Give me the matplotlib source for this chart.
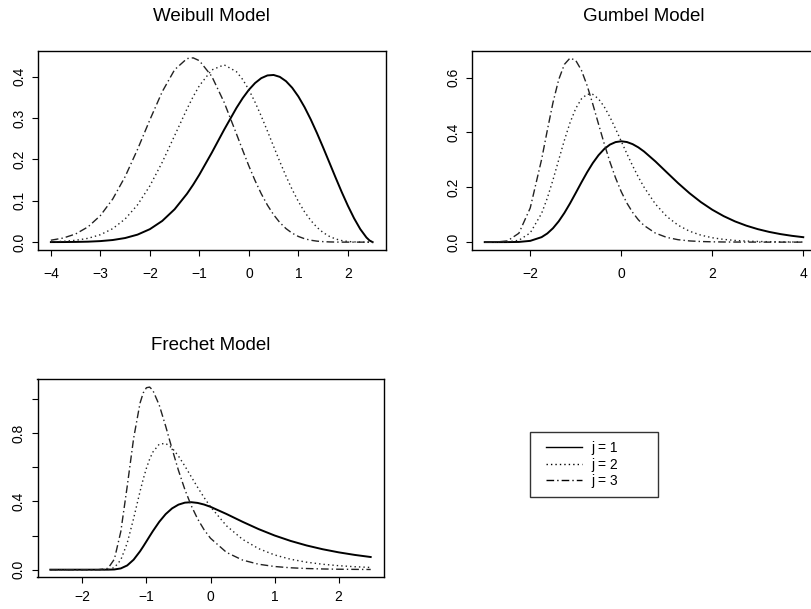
import matplotlib
matplotlib.use("Agg")
import matplotlib.pyplot as plt
from matplotlib.ticker import FixedLocator
from matplotlib.lines import Line2D
from matplotlib.legend_handler import HandlerLine2D

plt.rcParams['font.family'] = ['Liberation Sans', 'DejaVu Sans']
plt.rcParams['lines.scale_dashes'] = False

# ---------------- data ----------------
weibull_x = [-4, -3.75, -3.5, -3.25, -3, -2.75, -2.5, -2.25, -2, -1.75,
             -1.5, -1.25, -1.125, -1, -0.75, -0.5, -0.25, -0.125, 0, 0.125,
             0.25, 0.375, 0.5, 0.625, 0.75, 0.875, 1, 1.125, 1.25, 1.375,
             1.5, 1.625, 1.75, 1.875, 2, 2.125, 2.25, 2.375, 2.4375, 2.5]
weibull_j1 = [0.0001, 0.0002, 0.0005, 0.0011, 0.0025, 0.0051, 0.0099, 0.0181, 0.0313, 0.0512,
              0.0794, 0.1168, 0.1388, 0.1630, 0.2158, 0.2715, 0.3243, 0.3477, 0.3679, 0.3842,
              0.3960, 0.4026, 0.4037, 0.3991, 0.3887, 0.3728, 0.3517, 0.3259, 0.2963, 0.2635,
              0.2286, 0.1926, 0.1564, 0.1211, 0.0879, 0.0576, 0.0315, 0.0112, 0.0040, 0.0]
weibull_j2 = [0.0008, 0.0020, 0.0044, 0.0092, 0.0179, 0.0326, 0.0559, 0.0899, 0.1359, 0.1929,
              0.2572, 0.3217, 0.3515, 0.3779, 0.4158, 0.4282, 0.4115, 0.3928, 0.3679, 0.3379,
              0.3043, 0.2682, 0.2311, 0.1944, 0.1593, 0.1270, 0.0981, 0.0731, 0.0524, 0.0358,
              0.0231, 0.0140, 0.0077, 0.0038, 0.0016, 0.0005, 0.0001, 0.0, 0.0, 0.0]
weibull_j3 = [0.0046, 0.0099, 0.0197, 0.0368, 0.0641, 0.1042, 0.1581, 0.2238, 0.2954, 0.3634,
              0.4164, 0.4433, 0.4450, 0.4382, 0.4006, 0.3377, 0.2611, 0.2219, 0.1839, 0.1486,
              0.1169, 0.0893, 0.0661, 0.0473, 0.0327, 0.0216, 0.0137, 0.0082, 0.0046, 0.0024,
              0.0012, 0.0005, 0.0002, 0.0, 0.0, 0.0, 0.0, 0.0, 0.0, 0.0]

gumbel_x = [-3, -2.75, -2.5, -2.25, -2, -1.75, -1.625, -1.5, -1.375, -1.25,
            -1.125, -1, -0.875, -0.75, -0.625, -0.5, -0.375, -0.25, -0.125, 0,
            0.125, 0.25, 0.375, 0.5, 0.75, 1, 1.25, 1.5, 1.75, 2,
            2.25, 2.5, 2.75, 3, 3.25, 3.5, 3.75, 4]
gumbel_j1 = [0.0, 0.0, 0.0001, 0.0007, 0.0046, 0.0182, 0.0316, 0.0507, 0.0758, 0.1064,
             0.1415, 0.1794, 0.2179, 0.2549, 0.2885, 0.3170, 0.3396, 0.3556, 0.3649, 0.3679,
             0.3651, 0.3574, 0.3457, 0.3307, 0.2945, 0.2546, 0.2151, 0.1785, 0.1460, 0.1182,
             0.0949, 0.0756, 0.0600, 0.0474, 0.0373, 0.0293, 0.0230, 0.0180]
gumbel_j2 = [0.0, 0.0, 0.0008, 0.0068, 0.0337, 0.1049, 0.1607, 0.2272, 0.2997, 0.3715,
             0.4360, 0.4876, 0.5226, 0.5396, 0.5389, 0.5227, 0.4941, 0.4566, 0.4135, 0.3679,
             0.3222, 0.2784, 0.2376, 0.2006, 0.1391, 0.0937, 0.0616, 0.0398, 0.0254, 0.0160,
             0.0100, 0.0062, 0.0038, 0.0024, 0.0015, 0.0009, 0.0005, 0.0003]
gumbel_j3 = [0.0, 0.0003, 0.0046, 0.0324, 0.1247, 0.3018, 0.4080, 0.5092, 0.5926, 0.6483,
             0.6714, 0.6627, 0.6269, 0.5711, 0.5034, 0.4309, 0.3595, 0.2931, 0.2343, 0.1839,
             0.1422, 0.1084, 0.0816, 0.0608, 0.0329, 0.0172, 0.0088, 0.0044, 0.0022, 0.0011,
             0.0005, 0.0003, 0.0001, 0.0001, 0.0, 0.0, 0.0, 0.0]

frechet_x = [-2.5, -2, -1.75, -1.6, -1.5, -1.4, -1.3, -1.2, -1.1, -1.05, -1.0, -0.95, -0.9, -0.8,
             -0.7, -0.6, -0.5, -0.4, -0.3, -0.2, -0.1, 0, 0.25, 0.5, 0.75, 1, 1.25, 1.5, 1.75,
             2, 2.25, 2.5]
frechet_j1 = [0.0, 0.0, 0.0, 0.0001, 0.0013, 0.0074, 0.0248, 0.0584, 0.1074, 0.1358, 0.1656,
              0.1958, 0.2254, 0.2800, 0.3251, 0.3586, 0.3806, 0.3922, 0.3949, 0.3906, 0.3812,
              0.3679, 0.3258, 0.2803, 0.2376, 0.2001, 0.1683, 0.1417, 0.1197, 0.1015, 0.0865,
              0.0741]
frechet_j2 = [0.0, 0.0, 0.0, 0.0012, 0.0125, 0.0572, 0.1556, 0.2996, 0.4574, 0.5300, 0.5939,
              0.6468, 0.6879, 0.7345, 0.7391, 0.7122, 0.6649, 0.6064, 0.5436, 0.4812, 0.4221,
              0.3679, 0.2567, 0.1776, 0.1233, 0.0863, 0.0611, 0.0438, 0.0318, 0.0234, 0.0174,
              0.0131]
frechet_j3 = [0.0, 0.0, 0.0, 0.0077, 0.0616, 0.2227, 0.4875, 0.7681, 0.9745, 1.0344, 1.0647,
              1.0685, 1.0497, 0.9630, 0.8401, 0.7071, 0.5808, 0.4689, 0.3741, 0.2964, 0.2337,
              0.1839, 0.1011, 0.0563, 0.0320, 0.0186, 0.0111, 0.0068, 0.0042, 0.0027, 0.0018,
              0.0012]

titles = ["Weibull Model", "Gumbel Model", "Frechet Model"]
legend_labels = ["j = 1", "j = 2", "j = 3"]

# ---------------- styling ----------------
W, H = 811, 609
fig = plt.figure(figsize=(W / 100, H / 100), dpi=100)
fig.patch.set_facecolor("white")

def rect(x0, y0, x1, y1):
    return [x0 / W, 1 - y1 / H, (x1 - x0) / W, (y1 - y0) / H]

styles = [
    dict(color="black", lw=1.4, linestyle="-"),
    dict(color="#222222", lw=1.0, linestyle=(0, (1.0, 2.2))),
    dict(color="#222222", lw=1.0, linestyle=(0, (5.5, 2.2, 1.0, 2.2))),
]

panels = [
    dict(rect=rect(38, 50.5, 385.5, 249.5), x=weibull_x, ys=[weibull_j1, weibull_j2, weibull_j3],
         xlim=(-4.26, 2.76), ylim=(-0.0178, 0.4628), xpad=8.7,
         xticks=[-4, -3, -2, -1, 0, 1, 2], xlabels=["−4", "−3", "−2", "−1", "0", "1", "2"],
         yticks=[0.0, 0.1, 0.2, 0.3, 0.4], ylabels=["0.0", "0.1", "0.2", "0.3", "0.4"]),
    dict(rect=rect(472, 50.5, 816, 249.5), x=gumbel_x, ys=[gumbel_j1, gumbel_j2, gumbel_j3],
         xlim=(-3.28, 4.28), ylim=(-0.0269, 0.699), xpad=8.7,
         xticks=[-2, 0, 2, 4], xlabels=["−2", "0", "2", "4"],
         yticks=[0.0, 0.2, 0.4, 0.6], ylabels=["0.0", "0.2", "0.4", "0.6"]),
    dict(rect=rect(37.5, 379.3, 383.5, 577), x=frechet_x, ys=[frechet_j1, frechet_j2, frechet_j3],
         xlim=(-2.7, 2.7), ylim=(-0.0428, 1.114), xpad=5.5,
         xticks=[-2, -1, 0, 1, 2], xlabels=["−2", "−1", "0", "1", "2"],
         yticks=[0.0, 0.2, 0.4, 0.6, 0.8, 1.0], ylabels=["0.0", "", "0.4", "", "0.8", ""]),
]

for p, title in zip(panels, titles):
    ax = fig.add_axes(p["rect"])
    for y, st, lab in zip(p["ys"], styles, legend_labels):
        ax.plot(p["x"], y, label=lab, **st)
    ax.set_xlim(*p["xlim"])
    ax.set_ylim(*p["ylim"])
    ax.xaxis.set_major_locator(FixedLocator(p["xticks"]))
    ax.set_xticklabels(p["xlabels"])
    ax.yaxis.set_major_locator(FixedLocator(p["yticks"]))
    ax.set_yticklabels(p["ylabels"])
    ax.tick_params(axis="both", direction="out", length=4.0, width=0.8, labelsize=10)
    ax.tick_params(axis="x", pad=p["xpad"])
    ax.tick_params(axis="y", pad=4.6)
    for lab in ax.get_yticklabels():
        lab.set_rotation(90)
        lab.set_va("center")
    for s in ax.spines.values():
        s.set_linewidth(1.0)
        s.set_color("black")
    ax.set_title(title, fontsize=13.5, pad=21)

leg_handles = [Line2D([], [], color="black", lw=1.0, linestyle=st["linestyle"]) for st in styles]
leg = fig.legend(leg_handles, legend_labels, loc="upper left",
                 bbox_to_anchor=(530 / W, 1 - 496 / H, 128 / W, 64 / H), mode="expand",
                 borderaxespad=0, fontsize=10, frameon=True, fancybox=False, shadow=False,
                 handlelength=3.07, handletextpad=0.72, labelspacing=0.19, borderpad=0.65,
                 handler_map={Line2D: HandlerLine2D(xpad=0.48)})
leg.get_frame().set_edgecolor("black")
leg.get_frame().set_linewidth(1.0)

fig.savefig("out.png", dpi=100)
